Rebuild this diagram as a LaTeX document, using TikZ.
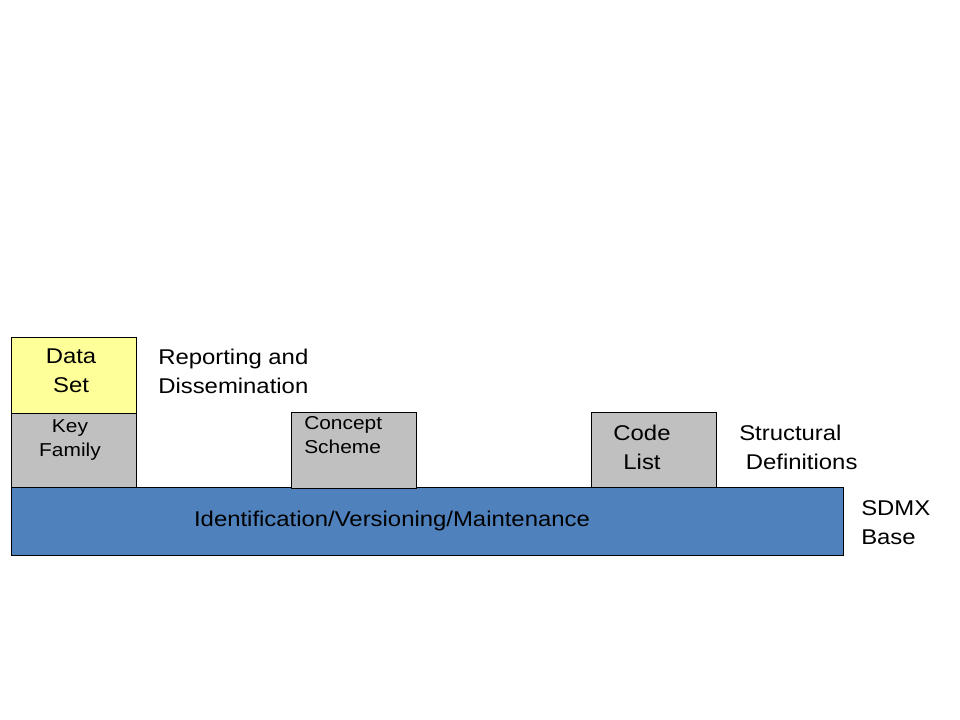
\documentclass[tikz,border=0pt]{standalone}
\usepackage{fontspec}
\setmainfont[FakeStretch=1.12]{Liberation Sans}
\begin{document}
\begin{tikzpicture}[x=0.75pt,y=-0.75pt,
  box/.style={draw=black,line width=0.75pt},
  lbl/.style={inner sep=0pt,font=\fontsize{16}{21.75}\selectfont},
  slbl/.style={inner sep=0pt,font=\fontsize{14}{18.5}\selectfont}]
\useasboundingbox[fill=white] (0,0) rectangle (960,720);
\definecolor{dsyellow}{HTML}{FFFF99}
\definecolor{kgray}{HTML}{C0C0C0}
\definecolor{bblue}{HTML}{4F81BD}
% boxes
\path[box,fill=bblue] (11,487) rectangle (843,555);
\path[box,fill=dsyellow] (11,337) rectangle (136,413);
\path[box,fill=kgray] (11,413) rectangle (136,487);
\path[box,fill=kgray] (291,412) rectangle (416,488);
\path[box,fill=kgray] (591,412) rectangle (716,487);
% labels
\node[lbl,align=center] (ds) at (71,371) {Data\\Set};
\node[slbl,align=center] (kf) at (70,440) {Key\\Family};
\node[slbl,align=left,anchor=north west] (cs) at (304,416) {Concept\\Scheme};
\node[lbl,align=center] (cl) at (642,447) {Code\\List};
\node[lbl,align=center] (base) at (392,521) {Identification/Versioning/Maintenance};
\node[lbl,align=left,anchor=west] (rd) at (158,371) {Reporting and\\Dissemination};
\node[lbl,align=left,anchor=west] (sd) at (739,447) {Structural\\\ Definitions};
\node[lbl,align=left,anchor=west] (sb) at (861,522.5) {SDMX\\Base};
\end{tikzpicture}
\end{document}
